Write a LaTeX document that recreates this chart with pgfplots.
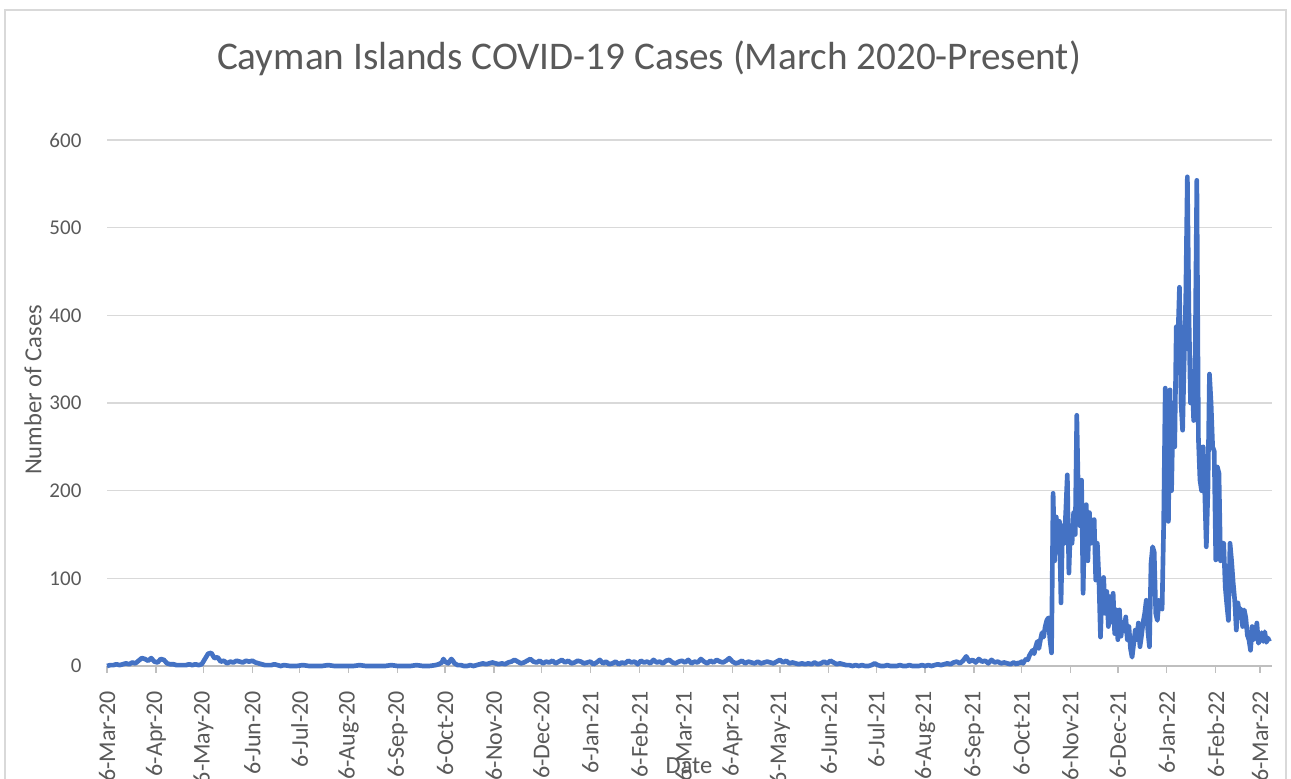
\documentclass[border=0pt]{standalone}
\usepackage{pgfplots}
\pgfplotsset{compat=1.18}
\usepackage{fontspec}
\setmainfont{Carlito}
\definecolor{lineblue}{RGB}{68,114,196}
\definecolor{gridc}{RGB}{217,217,217}
\definecolor{txt}{RGB}{89,89,89}
\definecolor{axc}{RGB}{191,191,191}
\begin{document}
\begin{tikzpicture}
\begin{axis}[
  at={(0pt,0pt)}, anchor=south west,
  scale only axis, width=873.75pt, height=394.5pt,
  xmin=0, xmax=737.6, ymin=0, ymax=600,
  axis x line=bottom, axis y line=left,
  x axis line style={axc, line width=1pt, -},
  y axis line style={draw=none},
  ytick={0,100,...,600},
  ymajorgrids, grid style={gridc, line width=1.1pt},
  xtick={0,31,61,92,122,153,184,214,245,275,306,337,365,396,426,457,487,518,549,579,610,640,671,702,730},
  xticklabels={6-Mar-20,6-Apr-20,6-May-20,6-Jun-20,6-Jul-20,6-Aug-20,6-Sep-20,6-Oct-20,6-Nov-20,6-Dec-20,6-Jan-21,6-Feb-21,6-Mar-21,6-Apr-21,6-May-21,6-Jun-21,6-Jul-21,6-Aug-21,6-Sep-21,6-Oct-21,6-Nov-21,6-Dec-21,6-Jan-22,6-Feb-22,6-Mar-22},
  tick align=outside, major tick length=5pt,
  xtick style={axc, line width=1pt},
  ytick style={draw=none},
  /pgf/number format/assume math mode=true,
  x tick label style={rotate=90, anchor=east, inner sep=0pt, font=\fontsize{18pt}{20pt}\selectfont, text=txt},
  y tick label style={anchor=east, inner sep=0pt, font=\fontsize{15.75pt}{18pt}\selectfont, text=txt},
  xticklabel shift=13.5pt, yticklabel shift=14pt,
  clip=false,
]
\addplot[lineblue, line width=3.5pt, line join=round, no markers] table {
0 0
2 1
4 1
6 2
8 1
10 2
12 3
14 2
16 4
18 3
20 6
22 9
24 8
26 6
28 9
30 5
32 4
34 8
36 7
38 3
40 2
42 2
44 1
46 1
48 1
50 1
52 2
54 1
56 2
58 1
60 2
62 8
64 14
66 15
68 9
70 10
72 5
74 6
76 3
78 5
80 4
82 6
84 5
86 4
88 6
90 5
92 6
94 4
96 3
98 2
100 1
102 1
104 1
106 2
108 1
110 0
112 1
116 0
120 0
124 1
128 0
132 0
136 0
140 1
144 0
148 0
152 0
156 0
160 1
164 0
168 0
172 0
176 0
180 1
184 0
188 0
192 0
196 1
200 0
204 0
208 1
210 2
212 4
213 8
214 5
216 3
218 8
219 6
220 3
222 1
224 1
226 0
228 0
230 1
232 0
234 1
236 2
238 3
240 2
242 3
244 4
246 3
248 2
250 3
252 2
254 4
256 5
258 7
260 5
262 3
264 4
266 6
268 8
270 5
272 4
274 6
276 3
278 5
280 4
282 6
284 3
286 5
288 7
290 4
292 6
294 3
296 4
298 6
300 5
302 3
304 4
306 5
308 2
310 4
312 7
314 3
316 5
318 2
320 3
322 5
324 2
326 4
328 3
330 6
332 4
334 5
336 2
338 6
340 4
342 5
344 3
346 7
348 4
350 5
352 3
354 6
356 7
358 4
360 3
362 5
364 6
366 4
368 7
370 3
372 5
374 4
376 8
378 5
380 3
382 6
384 4
386 7
388 5
390 4
392 6
394 9
396 5
398 3
400 4
402 6
404 3
406 5
408 4
410 3
412 5
414 3
416 4
418 5
420 4
422 3
424 5
426 7
428 4
430 6
432 3
434 4
436 3
438 2
440 3
442 2
444 3
446 2
448 4
450 2
452 3
454 5
456 3
458 6
460 4
462 2
464 3
466 2
468 1
470 1
472 0
474 1
476 0
478 1
480 0
482 0
484 1
486 3
488 1
490 0
492 0
494 1
496 0
498 0
500 0
502 1
504 0
506 0
508 1
510 0
512 0
514 0
516 1
518 0
520 1
522 0
524 1
526 2
528 1
530 2
532 3
534 2
536 4
538 5
540 3
542 6
544 11
546 5
548 7
550 4
552 8
554 5
556 6
558 3
560 7
562 4
564 5
566 3
568 4
570 3
572 2
574 4
575 3
576 2
577 4
578 3
579 5
580 3
581 6
582 8
583 7
584 12
585 15
586 18
587 14
588 22
589 28
590 20
591 30
592 38
593 33
594 45
595 52
596 55
597 30
598 15
599 197
600 120
601 170
602 150
603 165
604 72
605 160
606 140
607 175
608 218
609 106
610 160
611 140
612 175
613 150
614 286
615 190
616 160
617 212
618 83
619 170
620 184
621 120
622 175
623 140
624 160
625 167
626 98
627 140
628 100
629 33
630 90
631 101
632 60
633 85
634 45
635 79
636 50
637 83
638 37
639 64
640 30
641 64
642 34
643 50
644 40
645 56
646 30
647 45
648 20
649 10
650 25
651 41
652 30
653 49
654 22
655 35
656 50
657 60
658 75
659 40
660 22
661 117
662 136
663 130
664 60
665 52
666 75
667 72
668 65
669 160
670 317
671 174
672 165
673 315
674 200
675 300
676 250
677 387
678 370
679 432
680 300
681 269
682 350
683 420
684 558
685 400
686 300
687 330
688 280
689 360
690 554
691 260
692 212
693 200
694 250
695 200
696 136
697 200
698 333
699 300
700 250
701 245
702 121
703 227
704 220
705 120
706 140
707 140
708 90
709 70
710 52
711 140
712 120
713 95
714 75
715 41
716 72
717 60
718 65
719 45
720 64
721 55
722 35
723 30
724 18
725 45
726 30
727 35
728 49
729 26
730 30
731 38
732 28
733 39
734 27
735 32
736 28
};
\end{axis}
\begin{scope}[shift={(-80.25pt,-84pt)}, x=0.75pt, y=0.75pt]
\draw[gridc, line width=1.2pt] (5,-40) rectangle (1286,768);
\node[text=txt, font=\fontsize{29.4pt}{34pt}\selectfont] at (649,720) {Cayman Islands COVID-19 Cases (March 2020-Present)};
\node[text=txt, rotate=90, font=\fontsize{18.4pt}{22pt}\selectfont] at (33,388) {Number of Cases};
\node[text=txt, font=\fontsize{18.4pt}{22pt}\selectfont] at (689,12) {Date};
\pgfresetboundingbox
\useasboundingbox (0,0) rectangle (1291,778);
\end{scope}
\end{tikzpicture}
\end{document}
